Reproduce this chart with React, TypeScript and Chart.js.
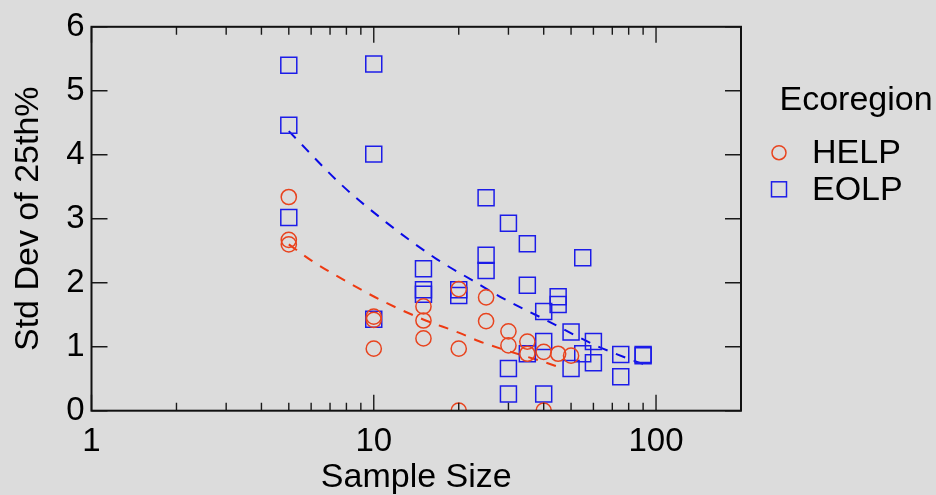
import React, { useEffect, useRef } from 'react';
import { Chart, registerables } from 'chart.js';

Chart.register(...registerables);

// Observed standard deviation of the 25th percentile by sample size
const helpSampleSize = [5, 5, 5, 10, 10, 10, 15, 15, 15, 20, 20, 20, 25, 25, 30, 30, 35, 35, 40, 40, 45, 50];
const helpStdDev = [3.34, 2.67, 2.6, 1.47, 1.42, 0.97, 1.63, 1.41, 1.13, 1.9, 0.97, 0, 1.77, 1.4, 1.24, 1.02, 1.08, 0.89, 0.92, 0, 0.89, 0.86];

const eolpSampleSize = [5, 5, 5, 10, 10, 10, 15, 15, 15, 20, 20, 25, 25, 25, 30, 30, 30, 35, 35, 35, 40, 40, 40, 45, 45, 50, 50, 55, 55, 60, 60, 75, 75, 90, 90];
const eolpStdDev = [5.4, 4.46, 3.02, 5.42, 4.01, 1.43, 2.22, 1.89, 1.82, 1.89, 1.8, 3.33, 2.43, 2.19, 2.93, 0.66, 0.26, 2.61, 1.96, 0.89, 1.55, 1.08, 0.26, 1.78, 1.66, 1.23, 0.66, 2.39, 0.89, 1.08, 0.75, 0.88, 0.53, 0.88, 0.86];

// Fitted trend for each ecoregion
const helpFitSize = [5, 6, 8, 10.8, 14.9, 20, 23.5, 28.6, 37.6, 47];
const helpFitStdDev = [2.6, 2.35, 2.02, 1.71, 1.43, 1.22, 1.09, 0.96, 0.8, 0.66];
const eolpFitSize = [5, 7.6, 11.1, 16.7, 22.3, 28.6, 40.2, 61.2, 86, 90];
const eolpFitStdDev = [4.37, 3.55, 2.94, 2.37, 2.04, 1.76, 1.43, 1.02, 0.76, 0.73];

const xTickLabels = [1, 10, 100];
const yTickValues = [0, 1, 2, 3, 4, 5, 6];
const seriesNames = ['HELP', 'EOLP'];
const legendTitle = 'Ecoregion';
const xTitle = 'Sample Size';
const yTitle = 'Std Dev of 25th%';

const FONT = "'Liberation Sans', Arial, Helvetica, sans-serif";
const BG = '#dcdcdc';
const RED = '#e8441f';
const BLUE = '#1c1ce8';
const RED_FIT = '#ee3a12';
const BLUE_FIT = '#0a0ae6';

const toPoints = (xs: number[], ys: number[]) => xs.map((x, i) => ({ x, y: ys[i] }));

// Background, boxed frame with inward ticks on all sides, and the legend
const framePlugin = {
  id: 'frame',
  beforeDraw(chart: any) {
    const { ctx, width, height } = chart;
    ctx.save();
    ctx.fillStyle = BG;
    ctx.fillRect(0, 0, width, height);
    ctx.restore();
  },
  afterDraw(chart: any) {
    const { ctx, chartArea } = chart;
    const { left, right, top, bottom } = chartArea;
    const xs = chart.scales.x;
    const ys = chart.scales.y;
    ctx.save();
    ctx.strokeStyle = '#1a1a1a';
    ctx.lineWidth = 1.4;
    ctx.beginPath();
    for (let dec = 1; dec <= 100; dec *= 10) {
      for (let m = 1; m <= 9; m++) {
        const v = dec * m;
        if (v > 200) break;
        const px = xs.getPixelForValue(v);
        const len = m === 1 ? 16 : 8;
        ctx.moveTo(px, bottom);
        ctx.lineTo(px, bottom - len);
        ctx.moveTo(px, top);
        ctx.lineTo(px, top + len);
      }
    }
    yTickValues.forEach((v) => {
      const py = ys.getPixelForValue(v);
      ctx.moveTo(left, py);
      ctx.lineTo(left + 16, py);
      ctx.moveTo(right, py);
      ctx.lineTo(right - 16, py);
    });
    ctx.stroke();
    ctx.lineWidth = 2;
    ctx.strokeStyle = '#111';
    ctx.strokeRect(left, top, right - left, bottom - top);

    // legend
    ctx.fillStyle = '#000';
    ctx.textBaseline = 'alphabetic';
    ctx.textAlign = 'left';
    ctx.font = `34px ${FONT}`;
    ctx.fillText(legendTitle, 779.5, 109.5);
    ctx.fillText(seriesNames[0], 812, 163);
    ctx.fillText(seriesNames[1], 812, 199.5);
    ctx.lineWidth = 1.5;
    ctx.strokeStyle = RED;
    ctx.beginPath();
    ctx.arc(779, 152.7, 7, 0, Math.PI * 2);
    ctx.stroke();
    ctx.strokeStyle = BLUE;
    ctx.strokeRect(779 - 7.5, 189.3 - 7.5, 15, 15);
    ctx.restore();
  },
};

export default function App() {
  const canvasRef = useRef<HTMLCanvasElement | null>(null);

  useEffect(() => {
    const canvas = canvasRef.current;
    if (!canvas) return;
    Chart.defaults.font.family = FONT;
    const chart = new Chart(canvas, {
      type: 'scatter',
      data: {
        datasets: [
          {
            label: seriesNames[0],
            data: toPoints(helpSampleSize, helpStdDev),
            pointStyle: 'circle',
            pointRadius: 7.6,
            pointBorderWidth: 1.5,
            borderColor: RED,
            backgroundColor: 'rgba(0,0,0,0)',
          },
          {
            label: seriesNames[1],
            data: toPoints(eolpSampleSize, eolpStdDev),
            pointStyle: 'rect',
            pointRadius: 11.3,
            pointBorderWidth: 1.5,
            borderColor: BLUE,
            backgroundColor: 'rgba(0,0,0,0)',
          },
          {
            label: seriesNames[0] + ' fit',
            data: toPoints(helpFitSize, helpFitStdDev),
            showLine: true,
            pointRadius: 0,
            borderColor: RED_FIT,
            borderWidth: 2,
            borderDash: [10, 9],
            cubicInterpolationMode: 'monotone',
          },
          {
            label: seriesNames[1] + ' fit',
            data: toPoints(eolpFitSize, eolpFitStdDev),
            showLine: true,
            pointRadius: 0,
            borderColor: BLUE_FIT,
            borderWidth: 2,
            borderDash: [10, 9],
            cubicInterpolationMode: 'monotone',
          },
        ],
      },
      options: {
        animation: false,
        responsive: false,
        maintainAspectRatio: false,
        events: [],
        layout: { padding: { left: 0, top: 22.5, right: 195, bottom: 0 } },
        plugins: { legend: { display: false }, tooltip: { enabled: false } },
        scales: {
          x: {
            type: 'logarithmic',
            position: 'bottom',
            min: 1,
            max: 200,
            afterBuildTicks: (s: any) => {
              s.ticks = xTickLabels.map((v) => ({ value: v }));
            },
            afterFit: (s: any) => {
              s.height = 84.3;
            },
            ticks: {
              autoSkip: false,
              maxRotation: 0,
              padding: 11,
              color: '#000',
              font: { size: 33, family: FONT },
              callback: (v: any) => String(v),
            },
            grid: { display: false, drawTicks: false },
            border: { display: false },
            title: {
              display: true,
              text: xTitle,
              color: '#000',
              font: { size: 34, family: FONT, lineHeight: 1 },
              padding: { top: 0, bottom: 0.5 },
            },
          },
          y: {
            min: 0,
            max: 6,
            afterBuildTicks: (s: any) => {
              s.ticks = yTickValues.map((v) => ({ value: v }));
            },
            afterFit: (s: any) => {
              s.width = 91.5;
            },
            ticks: {
              padding: 7,
              color: '#000',
              font: { size: 33, family: FONT },
            },
            grid: { display: false, drawTicks: false },
            border: { display: false },
            title: {
              display: true,
              text: yTitle,
              color: '#000',
              font: { size: 34, family: FONT, lineHeight: 1 },
              padding: { top: 11.5, bottom: 0 },
            },
          },
        },
      },
      plugins: [framePlugin],
    } as any);
    return () => chart.destroy();
  }, []);

  return (
    <div style={{ position: 'fixed', left: 0, top: 0, width: 936, height: 495, background: BG }}>
      <canvas ref={canvasRef} width={936} height={495} style={{ display: 'block' }} />
    </div>
  );
}
